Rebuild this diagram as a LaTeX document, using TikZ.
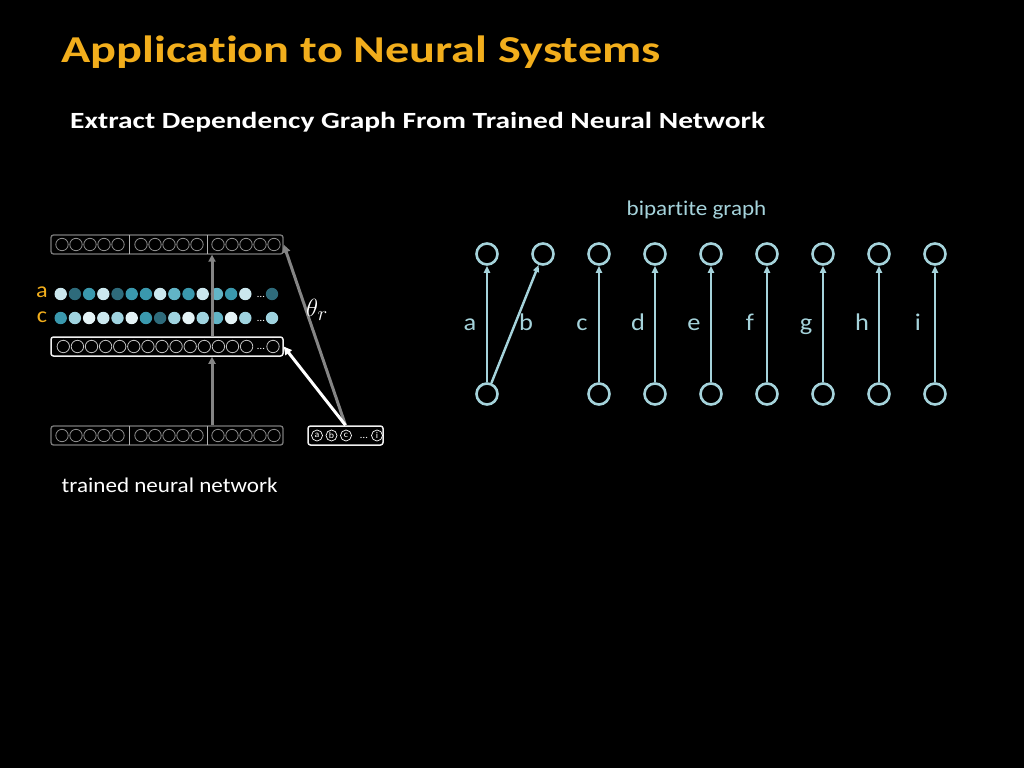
\documentclass[tikz,border=0pt]{standalone}
\usepackage{fontspec}
\setmainfont{Carlito}[Ligatures=NoCommon, FakeStretch=1.1]
\newfontfamily\titlefont{Carlito}[Ligatures=NoCommon, FakeStretch=1.27]
\usetikzlibrary{calc, arrows.meta}

\definecolor{titleorange}{HTML}{F2AE1C}
\definecolor{graphblue}{HTML}{A5D3DB}
\definecolor{boxgray}{HTML}{7A7A7A}
\definecolor{arrowgray}{HTML}{858585}
\definecolor{cellgray}{HTML}{8C8C8C}
\definecolor{dk}{HTML}{2E6B7B}
\definecolor{md}{HTML}{3A98AD}
\definecolor{ml}{HTML}{62B4C6}
\definecolor{lm}{HTML}{9FD3DF}
\definecolor{lt}{HTML}{CBE7EE}
\definecolor{vl}{HTML}{E4F3F6}

\tikzset{
  layerbox/.style = {draw=boxgray, line width=1.3pt, rounded corners=2.5pt,
                     minimum width=232pt, minimum height=19pt, inner sep=0pt},
  vnode/.style = {circle, draw=graphblue, line width=2.6pt, minimum size=21pt, inner sep=0pt},
  edge/.style = {draw=graphblue, line width=2.4pt, -{Triangle[length=7pt,width=6pt]}},
  ring/.style = {circle, draw=white, line width=0.7pt, minimum size=11pt, inner sep=0pt,
                 text=white, font=\fontsize{9}{9}\selectfont},
}

\begin{document}
\begin{tikzpicture}[x=1pt, y=-1pt]
\fill[black] (0,0) rectangle (1024,768);
\useasboundingbox (0,0) rectangle (1024,768);

\node[anchor=base west, inner sep=0pt, text=titleorange, font=\titlefont\bfseries\fontsize{38}{40}\selectfont] (title) at (61,63) {Application to Neural Systems};
\node[anchor=base west, inner sep=0pt, text=white, font=\titlefont\bfseries\fontsize{23.2}{26}\selectfont] (subtitle) at (70,128) {Extract Dependency Graph From Trained Neural Network};

% network layers
\node[layerbox] (layerout) at (167,244.5) {};
\node[layerbox, draw=white!94!black, line width=1.5pt] (layerhid) at (167,346.5) {};
\node[layerbox] (layerin) at (167,435.5) {};
\node[layerbox, draw=white!94!black, line width=1.5pt, minimum width=75pt] (onehot) at (345.5,435.5) {};

\foreach \y in {244.5,435.5} {
  \foreach \gx in {62,141,218}
    \foreach \k in {0,...,4}
      \draw[cellgray, line width=0.8pt] ({\gx+14*\k},\y) circle (6.2);
  \draw[white!70!black, line width=1pt] (129.5,\y-9.5) -- (129.5,\y+9.5);
  \draw[white!70!black, line width=1pt] (207.5,\y-9.5) -- (207.5,\y+9.5);
}
\foreach \k in {0,...,13}
  \draw[white!75!black, line width=0.8pt] ({63.3+14.1*\k},346.5) circle (6.2);
\draw[white!75!black, line width=0.8pt] (273,346.5) circle (6.2);
\node[text=white, font=\fontsize{10}{10}\selectfont, inner sep=0pt] (hiddots) at (261,348.5) {\ldots};

% codes of a and c
\node[text=titleorange, font=\fontsize{22}{22}\selectfont, inner sep=0pt] (rowa) at (42,292) {a};
\node[text=titleorange, font=\fontsize{22}{22}\selectfont, inner sep=0pt] (rowc) at (42,317) {c};
\foreach \c [count=\k from 0] in {lt,dk,md,lt,dk,md,md,lt,ml,md,lt,ml,md,lt}
  \fill[\c] ({60.7+14.2*\k},294) circle (6.2);
\fill[dk] (272,294) circle (6.2);
\foreach \c [count=\k from 0] in {md,lm,vl,lt,lm,vl,md,dk,lm,vl,lm,ml,vl,lm}
  \fill[\c] ({60.7+14.2*\k},318) circle (6.2);
\fill[lm] (272,318) circle (6.2);
\node[text=white, font=\fontsize{10}{10}\selectfont, inner sep=0pt] (adots) at (261,297) {\ldots};
\node[text=white, font=\fontsize{10}{10}\selectfont, inner sep=0pt] (cdots) at (261,321) {\ldots};

% one-hot input
\foreach \x/\l in {317/a,331.5/b,346/c,377/i}
  \node[ring] (ring\l) at (\x,435.5) {\l};
\node[text=white, font=\fontsize{10}{10}\selectfont, inner sep=0pt] (ringdots) at (364,437.5) {\ldots};

\draw[arrowgray, line width=3pt, -{Triangle[length=7pt,width=7pt]}] ($(layerin.north)+(45,0)$) -- ($(layerhid.south)+(45,0)$);
\draw[arrowgray, line width=3pt, -{Triangle[length=7pt,width=7pt]}] ($(layerhid.north)+(45,0)$) -- ($(layerout.south)+(45,0)$);
\draw[arrowgray, line width=3pt, -{Triangle[length=8pt,width=8pt]}] (onehot.north) -- (layerout.east);
\draw[white, line width=3pt, -{Triangle[length=8pt,width=8pt]}] (onehot.north) -- (layerhid.east);
\node[text=white, font=\fontsize{28}{30}\selectfont, inner sep=0pt] (theta) at (317,310) {$\theta_r$};

\node[anchor=base west, inner sep=0pt, text=white, font=\fontsize{21}{23}\selectfont] (netlabel) at (61.5,492.5) {trained neural network};

% bipartite graph
\node[anchor=base, inner sep=0pt, text=graphblue, font=\fontsize{21}{23}\selectfont] (graphlabel) at (696.5,215) {bipartite graph};
\foreach \l [count=\k from 0] in {a,b,c,d,e,f,g,h,i} {
  \node[vnode] (u\l) at ({487+56*\k},254) {};
  \node[anchor=base, text=graphblue, font=\fontsize{24}{24}\selectfont, inner sep=0pt] (lab\l) at ({470+56*\k},330) {\l};
}
\foreach \x/\l in {487/a,599/c,655/d,711/e,767/f,823/g,879/h,935/i}
  \node[vnode] (d\l) at (\x,394) {};
\draw[edge] (da) -- (ua);
\draw[edge] (da) -- (ub);
\foreach \l in {c,d,e,f,g,h,i}
  \draw[edge] (d\l) -- (u\l);
\end{tikzpicture}
\end{document}
